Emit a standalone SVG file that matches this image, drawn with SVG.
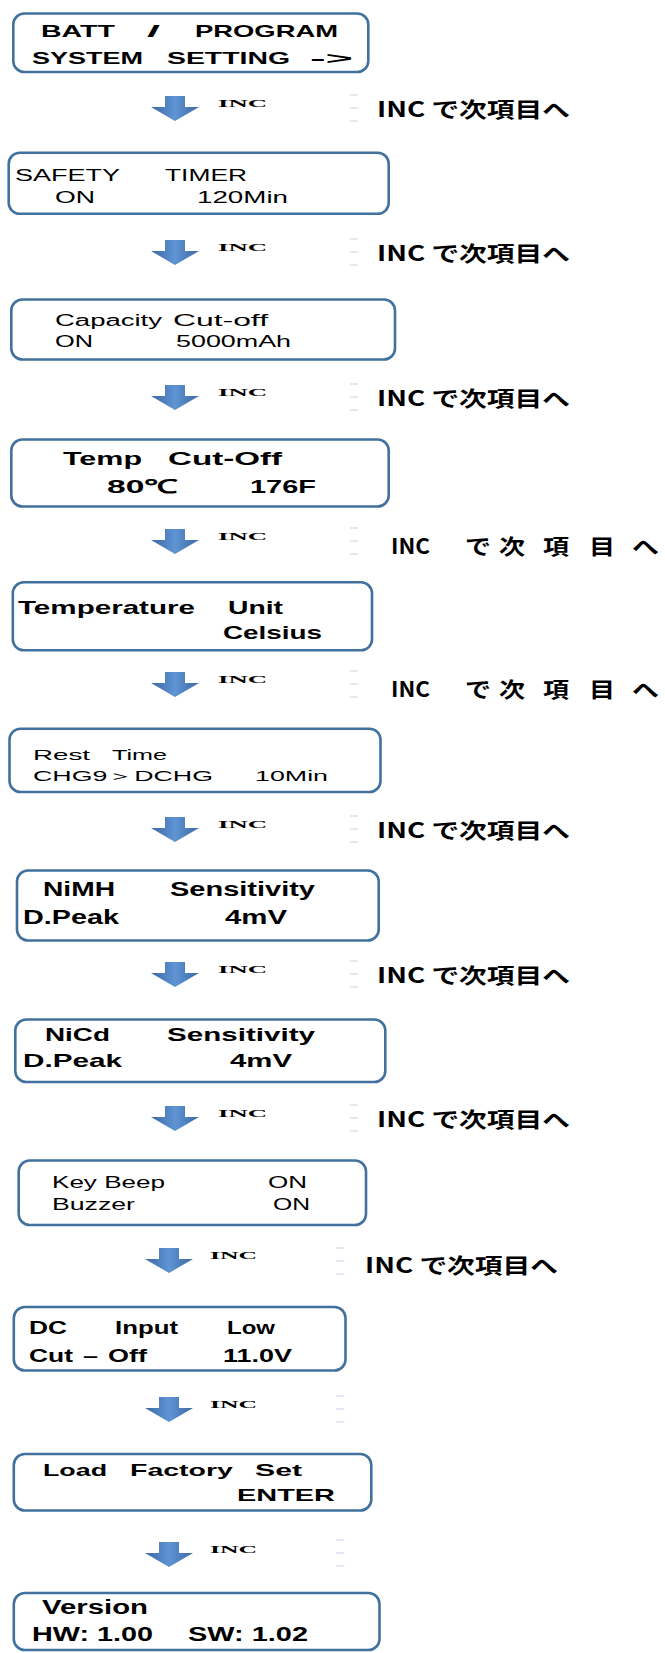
<svg xmlns="http://www.w3.org/2000/svg" xmlns:xlink="http://www.w3.org/1999/xlink" width="665" height="1653" viewBox="0 0 665 1653">
<style>
.box{fill:#fff;stroke:#41719c;stroke-width:2.6}
.b{font-family:"Liberation Sans",Arial,sans-serif;font-weight:bold;fill:#000}
.r{font-family:"Liberation Sans",Arial,sans-serif;fill:#000}
.inc{font-family:"Liberation Serif","Times New Roman",serif;font-weight:bold;font-size:11px;fill:#000}
.jp{font-family:"Noto Sans CJK JP","Noto Sans CJK SC",sans-serif;font-weight:bold;font-size:21px;fill:#000}
.dash{stroke:#d3d6ec;stroke-width:1.2}
</style>
<defs>
<linearGradient id="ag" x1="0" y1="0" x2="1" y2="0">
<stop offset="0" stop-color="#3b68a3"/>
<stop offset="0.5" stop-color="#5f94d4"/>
<stop offset="1" stop-color="#3b68a3"/>
</linearGradient>
<path id="arr" d="M-10,0 H10 V11 H24 L0,25 L-24,11 H-10 Z" fill="url(#ag)"/>
<g id="dsh"><line class="dash" x1="0" y1="0" x2="8" y2="0"/><line class="dash" x1="0" y1="13" x2="8" y2="13"/><line class="dash" x1="0" y1="26" x2="8" y2="26"/></g>
</defs>

<g id="n1">
<rect class="box" x="13.3" y="13.5" width="355" height="58.5" rx="11"/>
<text class="b" font-size="17" y="37"><tspan x="41" textLength="74" lengthAdjust="spacingAndGlyphs">BATT</tspan><tspan x="147" textLength="13" lengthAdjust="spacingAndGlyphs">/</tspan><tspan x="195" textLength="143" lengthAdjust="spacingAndGlyphs">PROGRAM</tspan></text>
<text class="b" font-size="17" y="64"><tspan x="32" textLength="111" lengthAdjust="spacingAndGlyphs">SYSTEM</tspan><tspan x="167" textLength="123" lengthAdjust="spacingAndGlyphs">SETTING</tspan><tspan x="310" textLength="43" lengthAdjust="spacingAndGlyphs">-&gt;</tspan></text>
</g>

<g id="n2">
<rect class="box" x="8.7" y="152.8" width="380" height="61" rx="11"/>
<text class="r" font-size="16" y="181"><tspan x="15" textLength="105" lengthAdjust="spacingAndGlyphs">SAFETY</tspan><tspan x="165" textLength="82" lengthAdjust="spacingAndGlyphs">TIMER</tspan></text>
<text class="r" font-size="16" y="203"><tspan x="55" textLength="40" lengthAdjust="spacingAndGlyphs">ON</tspan><tspan x="197" textLength="91" lengthAdjust="spacingAndGlyphs">120Min</tspan></text>
</g>

<g id="n3">
<rect class="box" x="11.3" y="299.5" width="383.7" height="60" rx="11"/>
<text class="r" font-size="16" y="326"><tspan x="55" textLength="107" lengthAdjust="spacingAndGlyphs">Capacity</tspan><tspan x="173" textLength="95" lengthAdjust="spacingAndGlyphs">Cut-off</tspan></text>
<text class="r" font-size="16" y="347"><tspan x="55" textLength="38" lengthAdjust="spacingAndGlyphs">ON</tspan><tspan x="176" textLength="115" lengthAdjust="spacingAndGlyphs">5000mAh</tspan></text>
</g>

<g id="n4">
<rect class="box" x="11.3" y="439.5" width="377.4" height="67" rx="11"/>
<text class="b" font-size="19" y="465"><tspan x="63" textLength="79" lengthAdjust="spacingAndGlyphs">Temp</tspan><tspan x="168" textLength="114" lengthAdjust="spacingAndGlyphs">Cut-Off</tspan></text>
<text class="b" font-size="19" y="493"><tspan x="107" textLength="71" lengthAdjust="spacingAndGlyphs">80℃</tspan><tspan x="250" textLength="66" lengthAdjust="spacingAndGlyphs">176F</tspan></text>
</g>

<g id="n5">
<rect class="box" x="12.8" y="582.3" width="359.2" height="68" rx="11"/>
<text class="b" font-size="19" y="614"><tspan x="18" textLength="177" lengthAdjust="spacingAndGlyphs">Temperature</tspan><tspan x="228" textLength="55" lengthAdjust="spacingAndGlyphs">Unit</tspan></text>
<text class="b" font-size="19" y="639" x="223" textLength="99" lengthAdjust="spacingAndGlyphs">Celsius</text>
</g>

<g id="n6">
<rect class="box" x="9.5" y="728.7" width="371" height="63.3" rx="11"/>
<text class="r" font-size="15" y="760"><tspan x="33" textLength="57" lengthAdjust="spacingAndGlyphs">Rest</tspan><tspan x="112" textLength="55" lengthAdjust="spacingAndGlyphs">Time</tspan></text>
<text class="r" font-size="15" y="781"><tspan x="33" textLength="180" lengthAdjust="spacingAndGlyphs">CHG9＞DCHG</tspan><tspan x="255" textLength="73" lengthAdjust="spacingAndGlyphs">10Min</tspan></text>
</g>

<g id="n7">
<rect class="box" x="17" y="870.5" width="361.7" height="70" rx="11"/>
<text class="b" font-size="20" y="896"><tspan x="43" textLength="72" lengthAdjust="spacingAndGlyphs">NiMH</tspan><tspan x="170" textLength="145" lengthAdjust="spacingAndGlyphs">Sensitivity</tspan></text>
<text class="b" font-size="20" y="924"><tspan x="23" textLength="96" lengthAdjust="spacingAndGlyphs">D.Peak</tspan><tspan x="225" textLength="62" lengthAdjust="spacingAndGlyphs">4mV</tspan></text>
</g>

<g id="n8">
<rect class="box" x="15.3" y="1019.5" width="370" height="62.5" rx="11"/>
<text class="b" font-size="19" y="1041"><tspan x="45" textLength="65" lengthAdjust="spacingAndGlyphs">NiCd</tspan><tspan x="167" textLength="148" lengthAdjust="spacingAndGlyphs">Sensitivity</tspan></text>
<text class="b" font-size="19" y="1067"><tspan x="23" textLength="99" lengthAdjust="spacingAndGlyphs">D.Peak</tspan><tspan x="230" textLength="62" lengthAdjust="spacingAndGlyphs">4mV</tspan></text>
</g>

<g id="n9">
<rect class="box" x="18.7" y="1160.5" width="347.3" height="64.5" rx="11"/>
<text class="r" font-size="16" y="1188"><tspan x="52" textLength="113" lengthAdjust="spacingAndGlyphs">Key Beep</tspan><tspan x="268" textLength="39" lengthAdjust="spacingAndGlyphs">ON</tspan></text>
<text class="r" font-size="16" y="1210"><tspan x="52" textLength="83" lengthAdjust="spacingAndGlyphs">Buzzer</tspan><tspan x="273" textLength="37" lengthAdjust="spacingAndGlyphs">ON</tspan></text>
</g>

<g id="n10">
<rect class="box" x="13.8" y="1307" width="331.7" height="63.5" rx="11"/>
<text class="b" font-size="18" y="1334"><tspan x="29" textLength="38" lengthAdjust="spacingAndGlyphs">DC</tspan><tspan x="115" textLength="63" lengthAdjust="spacingAndGlyphs">Input</tspan><tspan x="227" textLength="48" lengthAdjust="spacingAndGlyphs">Low</tspan></text>
<text class="b" font-size="18" y="1362"><tspan x="29" textLength="44" lengthAdjust="spacingAndGlyphs">Cut</tspan><tspan x="83" textLength="15" lengthAdjust="spacingAndGlyphs">–</tspan><tspan x="108" textLength="39" lengthAdjust="spacingAndGlyphs">Off</tspan><tspan x="223" textLength="69" lengthAdjust="spacingAndGlyphs">11.0V</tspan></text>
</g>

<g id="n11">
<rect class="box" x="13.8" y="1454" width="357.5" height="56.5" rx="11"/>
<text class="b" font-size="17" y="1476"><tspan x="43" textLength="64" lengthAdjust="spacingAndGlyphs">Load</tspan><tspan x="130" textLength="103" lengthAdjust="spacingAndGlyphs">Factory</tspan><tspan x="255" textLength="47" lengthAdjust="spacingAndGlyphs">Set</tspan></text>
<text class="b" font-size="17" y="1501" x="237" textLength="98" lengthAdjust="spacingAndGlyphs">ENTER</text>
</g>

<g id="n12">
<rect class="box" x="13.8" y="1593" width="365.7" height="57" rx="11"/>
<text class="b" font-size="20" y="1614" x="42" textLength="106" lengthAdjust="spacingAndGlyphs">Version</text>
<text class="b" font-size="20" y="1641"><tspan x="32" textLength="121" lengthAdjust="spacingAndGlyphs">HW: 1.00</tspan><tspan x="188" textLength="120" lengthAdjust="spacingAndGlyphs">SW: 1.02</tspan></text>
</g>

<g id="connectors">
<use xlink:href="#arr" x="175" y="96"/><text class="inc" x="218" y="107" textLength="49" lengthAdjust="spacingAndGlyphs">INC</text>
<use xlink:href="#arr" x="175" y="240"/><text class="inc" x="218" y="251" textLength="49" lengthAdjust="spacingAndGlyphs">INC</text>
<use xlink:href="#arr" x="175" y="385"/><text class="inc" x="218" y="396" textLength="49" lengthAdjust="spacingAndGlyphs">INC</text>
<use xlink:href="#arr" x="175" y="529"/><text class="inc" x="218" y="540" textLength="49" lengthAdjust="spacingAndGlyphs">INC</text>
<use xlink:href="#arr" x="175" y="672"/><text class="inc" x="218" y="683" textLength="49" lengthAdjust="spacingAndGlyphs">INC</text>
<use xlink:href="#arr" x="175" y="817"/><text class="inc" x="218" y="828" textLength="49" lengthAdjust="spacingAndGlyphs">INC</text>
<use xlink:href="#arr" x="175" y="962"/><text class="inc" x="218" y="973" textLength="49" lengthAdjust="spacingAndGlyphs">INC</text>
<use xlink:href="#arr" x="175" y="1106"/><text class="inc" x="218" y="1117" textLength="49" lengthAdjust="spacingAndGlyphs">INC</text>
<use xlink:href="#arr" x="169" y="1248"/><text class="inc" x="210" y="1259" textLength="47" lengthAdjust="spacingAndGlyphs">INC</text>
<use xlink:href="#arr" x="169" y="1397"/><text class="inc" x="210" y="1408" textLength="47" lengthAdjust="spacingAndGlyphs">INC</text>
<use xlink:href="#arr" x="169" y="1542"/><text class="inc" x="210" y="1553" textLength="47" lengthAdjust="spacingAndGlyphs">INC</text>
</g>

<g id="notes">
<use xlink:href="#dsh" x="350" y="95"/>
<use xlink:href="#dsh" x="350" y="239"/>
<use xlink:href="#dsh" x="350" y="384"/>
<use xlink:href="#dsh" x="350" y="528"/>
<use xlink:href="#dsh" x="350" y="671"/>
<use xlink:href="#dsh" x="350" y="816"/>
<use xlink:href="#dsh" x="350" y="961"/>
<use xlink:href="#dsh" x="350" y="1105"/>
<use xlink:href="#dsh" x="336" y="1248"/>
<use xlink:href="#dsh" x="336" y="1396"/>
<use xlink:href="#dsh" x="336" y="1540"/>
<text class="jp" x="377" y="117" textLength="193" lengthAdjust="spacingAndGlyphs">INC で次項目へ</text>
<text class="jp" x="377" y="261" textLength="193" lengthAdjust="spacingAndGlyphs">INC で次項目へ</text>
<text class="jp" x="377" y="406" textLength="193" lengthAdjust="spacingAndGlyphs">INC で次項目へ</text>
<text class="jp" y="554"><tspan x="391" textLength="39" lengthAdjust="spacingAndGlyphs">INC</tspan><tspan x="465" textLength="26" lengthAdjust="spacingAndGlyphs">で</tspan><tspan x="499" textLength="26" lengthAdjust="spacingAndGlyphs">次</tspan><tspan x="543" textLength="26" lengthAdjust="spacingAndGlyphs">項</tspan><tspan x="589" textLength="26" lengthAdjust="spacingAndGlyphs">目</tspan><tspan x="632" textLength="27" lengthAdjust="spacingAndGlyphs">へ</tspan></text>
<text class="jp" y="697"><tspan x="391" textLength="39" lengthAdjust="spacingAndGlyphs">INC</tspan><tspan x="465" textLength="26" lengthAdjust="spacingAndGlyphs">で</tspan><tspan x="499" textLength="26" lengthAdjust="spacingAndGlyphs">次</tspan><tspan x="543" textLength="26" lengthAdjust="spacingAndGlyphs">項</tspan><tspan x="589" textLength="26" lengthAdjust="spacingAndGlyphs">目</tspan><tspan x="632" textLength="27" lengthAdjust="spacingAndGlyphs">へ</tspan></text>
<text class="jp" x="377" y="838" textLength="193" lengthAdjust="spacingAndGlyphs">INC で次項目へ</text>
<text class="jp" x="377" y="983" textLength="193" lengthAdjust="spacingAndGlyphs">INC で次項目へ</text>
<text class="jp" x="377" y="1127" textLength="193" lengthAdjust="spacingAndGlyphs">INC で次項目へ</text>
<text class="jp" x="365" y="1273" textLength="193" lengthAdjust="spacingAndGlyphs">INC で次項目へ</text>
</g>
</svg>
